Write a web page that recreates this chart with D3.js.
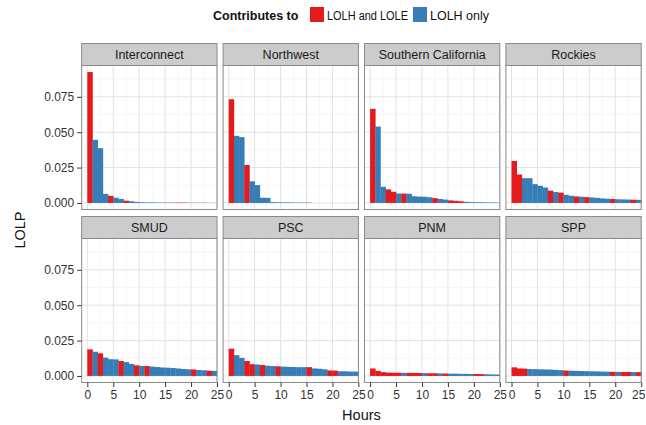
<!DOCTYPE html>
<html>
<head>
<meta charset="utf-8">
<script src="https://cdn.jsdelivr.net/npm/d3@7"></script>
<style>
  html, body { margin: 0; padding: 0; background: #fff; }
  svg { display: block; font-family: "Liberation Sans", Arial, sans-serif; }
</style>
</head>
<body>
<svg id="chart" width="646" height="425"></svg>
<script>
// Hours (bar i covers the interval [hour-1, hour])
const hours = [1,2,3,4,5,6,7,8,9,10,11,12,13,14,15,16,17,18,19,20,21,22,23,24,25];

const regions = ["Interconnect", "Northwest", "Southern California", "Rockies",
                 "SMUD", "PSC", "PNM", "SPP"];

const categories = ["LOLH and LOLE", "LOLH only"];
const categoryColors = ["#E41A1C", "#377EB8"];

// LOLP by hour, per region
const interconnect = [0.0925,0.0446,0.0387,0.0064,0.0050,0.0037,0.0028,0.0016,0.0012,0.0007,0.0005,0.0004,0.0004,0.0003,0.0003,0.0003,0.0003,0.0003,0.0003,0.0002,0.0002,0.0002,0.0002,0.0001,0.0001];
const northwest    = [0.0733,0.0474,0.0465,0.0268,0.0153,0.0126,0.0037,0.0036,0.0006,0.0005,0.0004,0.0004,0.0003,0.0003,0.0003,0.0003,0,0,0,0,0,0,0,0,0];
const socal        = [0.0665,0.0540,0.0114,0.0096,0.0079,0.0067,0.0066,0.0065,0.0047,0.0045,0.0044,0.0040,0.0034,0.0028,0.0024,0.0018,0.0015,0.0012,0.0008,0.0006,0.0005,0.0005,0.0004,0.0004,0.0003];
const rockies      = [0.0297,0.0201,0.0175,0.0175,0.0133,0.0121,0.0109,0.0087,0.0077,0.0073,0.0058,0.0051,0.0046,0.0044,0.0041,0.0039,0.0036,0.0032,0.0030,0.0028,0.0026,0.0025,0.0024,0.0023,0.0022];
const smud         = [0.0188,0.0171,0.0160,0.0130,0.0118,0.0117,0.0106,0.0098,0.0085,0.0075,0.0071,0.0070,0.0066,0.0063,0.0060,0.0058,0.0056,0.0053,0.0049,0.0047,0.0046,0.0042,0.0040,0.0037,0.0036];
const psc          = [0.0193,0.0147,0.0128,0.0106,0.0083,0.0081,0.0077,0.0072,0.0070,0.0068,0.0066,0.0064,0.0063,0.0062,0.0062,0.0062,0.0053,0.0051,0.0047,0.0039,0.0038,0.0033,0.0033,0.0031,0.0031];
const pnm          = [0.0053,0.0036,0.0027,0.0024,0.0023,0.0023,0.0022,0.0022,0.0021,0.0021,0.0020,0.0019,0.0019,0.0018,0.0017,0.0016,0.0016,0.0015,0.0015,0.0014,0.0014,0.0013,0.0012,0.0011,0.0010];
const spp          = [0.0061,0.0053,0.0052,0.0049,0.0048,0.0047,0.0046,0.0045,0.0043,0.0041,0.0038,0.0037,0.0036,0.0035,0.0034,0.0033,0.0032,0.0031,0.0030,0.0029,0.0029,0.0028,0.0028,0.0027,0.0027];

// Category index per hour: 0 = LOLH and LOLE, 1 = LOLH only
const interconnectCat = [0,1,1,1,0,1,1,0,1,1,1,1,1,1,1,1,1,0,0,1,1,1,1,1,1];
const northwestCat    = [0,1,1,0,1,1,1,1,1,1,1,1,1,1,1,1,1,1,1,1,1,1,1,1,1];
const socalCat        = [0,1,1,0,0,1,0,1,1,1,1,1,0,1,1,0,0,0,1,1,1,1,1,1,1];
const rockiesCat      = [0,0,1,1,1,1,1,0,1,0,1,1,0,1,0,1,1,1,1,0,1,1,1,0,1];
const smudCat         = [0,1,0,1,1,1,0,1,1,0,1,0,1,1,1,1,1,1,1,1,0,1,1,0,1];
const pscCat          = [0,1,1,0,0,1,0,1,1,0,1,1,1,1,1,0,1,1,1,0,0,1,1,1,1];
const pnmCat          = [0,0,0,0,0,0,1,0,0,0,1,0,0,1,0,1,1,1,1,1,0,0,1,1,1];
const sppCat          = [0,0,0,1,1,1,1,1,1,1,0,1,1,1,1,1,1,1,1,0,1,0,0,1,0];

const seriesValues = [interconnect, northwest, socal, rockies, smud, psc, pnm, spp];
const seriesCats   = [interconnectCat, northwestCat, socalCat, rockiesCat, smudCat, pscCat, pnmCat, sppCat];

const xTicks = [0, 5, 10, 15, 20, 25];
const yTicks = [0, 0.025, 0.05, 0.075];

// Layout
const colX = [81.7, 223.1, 364.5, 505.9];
const panelW = 135.3;
const rowY = [43.5, 216.5];
const stripH = 22;
const plotH = 144;

const svg = d3.select("#chart");

const maxV = d3.max(seriesValues.flat());
const pad = maxV * 0.05;
const y = d3.scaleLinear().domain([-pad, maxV + pad]).range([plotH, 0]);
const x = d3.scaleLinear().domain([-1.08, 25]).range([0, panelW]);

const xMinor = [2.5, 7.5, 12.5, 17.5, 22.5];
const yMinor = [0.0125, 0.0375, 0.0625, 0.0875];

regions.forEach((name, idx) => {
  const col = idx % 4, row = Math.floor(idx / 4);
  const gx = colX[col], gy = rowY[row] + stripH;
  const g = svg.append("g").attr("transform", `translate(${gx},${gy})`);

  // panel background
  g.append("rect").attr("width", panelW).attr("height", plotH).attr("fill", "#fff");

  // minor grid
  g.selectAll(".xm").data(xMinor).enter().append("line")
    .attr("x1", d => x(d)).attr("x2", d => x(d)).attr("y1", 0).attr("y2", plotH)
    .attr("stroke", "#f4f4f4").attr("stroke-width", 0.8);
  g.selectAll(".ym").data(yMinor.filter(v => y(v) > 0)).enter().append("line")
    .attr("x1", 0).attr("x2", panelW).attr("y1", d => y(d)).attr("y2", d => y(d))
    .attr("stroke", "#f4f4f4").attr("stroke-width", 0.8);
  // major grid
  g.selectAll(".xg").data(xTicks).enter().append("line")
    .attr("x1", d => x(d)).attr("x2", d => x(d)).attr("y1", 0).attr("y2", plotH)
    .attr("stroke", "#e3e3e3").attr("stroke-width", 1);
  g.selectAll(".yg").data(yTicks).enter().append("line")
    .attr("x1", 0).attr("x2", panelW).attr("y1", d => y(d)).attr("y2", d => y(d))
    .attr("stroke", "#e3e3e3").attr("stroke-width", 1);

  // bars
  const vals = seriesValues[idx], cats = seriesCats[idx];
  const data = hours.map((h, i) => ({ h, v: vals[i], c: cats[i] }));
  g.selectAll(".bar").data(data).enter().append("rect")
    .attr("x", d => x(d.h - 1))
    .attr("width", d => x(d.h) - x(d.h - 1) + 0.3)
    .attr("y", d => y(d.v))
    .attr("height", d => Math.max(0, y(0) - y(d.v)))
    .attr("fill", d => categoryColors[d.c]);

  // panel border
  g.append("rect").attr("width", panelW).attr("height", plotH)
    .attr("fill", "none").attr("stroke", "#8a8a8a").attr("stroke-width", 1);

  // strip
  svg.append("rect")
    .attr("x", gx).attr("y", rowY[row]).attr("width", panelW).attr("height", stripH)
    .attr("fill", "#cccccc").attr("stroke", "#8a8a8a").attr("stroke-width", 1);
  svg.append("text")
    .attr("x", gx + panelW / 2).attr("y", rowY[row] + stripH / 2 + 4.5)
    .attr("text-anchor", "middle").attr("font-size", 12.5).attr("fill", "#1a1a1a")
    .text(name);

  // y axis on first column
  if (col === 0) {
    const ya = d3.axisLeft(y).tickValues(yTicks).tickFormat(d3.format(".3f")).tickSize(4.5).tickPadding(3);
    const ag = g.append("g").call(ya);
    ag.select(".domain").remove();
    ag.selectAll("line").attr("stroke", "#333");
    ag.selectAll("text").attr("font-size", 12).attr("fill", "#333")
      .attr("font-family", "Liberation Sans, Arial, sans-serif");
  }
  // x axis on bottom row
  if (row === 1) {
    const xa = d3.axisBottom(x).tickValues(xTicks).tickFormat(d3.format("d")).tickSize(4.5).tickPadding(3);
    const ag = g.append("g").attr("transform", `translate(0,${plotH})`).call(xa);
    ag.select(".domain").remove();
    ag.selectAll("line").attr("stroke", "#333");
    ag.selectAll("text").attr("font-size", 12).attr("fill", "#333")
      .attr("font-family", "Liberation Sans, Arial, sans-serif");
    // keep the last label of the rightmost panel inside the page
    if (col === 3) {
      ag.selectAll("text").filter(d => d === 25).attr("dx", -3);
    }
  }
});

// axis titles
svg.append("text").attr("x", colX[0] + (colX[3] + panelW - colX[0]) / 2).attr("y", 420)
  .attr("text-anchor", "middle").attr("font-size", 14.5).attr("fill", "#111").text("Hours");
svg.append("text").attr("transform", "translate(25,230) rotate(-90)")
  .attr("text-anchor", "middle").attr("font-size", 14.5).attr("fill", "#111").text("LOLP");

// legend
const lg = svg.append("g");
lg.append("text").attr("x", 213).attr("y", 20).attr("font-size", 12.5).attr("font-weight", "bold")
  .attr("fill", "#111").text("Contributes to");
const keyX = [310, 413];
const labX = [327, 430];
const labW = [81, 59];
categories.forEach((c, i) => {
  lg.append("rect").attr("x", keyX[i]).attr("y", 7).attr("width", 14).attr("height", 15)
    .attr("fill", categoryColors[i]);
  lg.append("text").attr("x", labX[i]).attr("y", 20).attr("font-size", 12)
    .attr("textLength", labW[i]).attr("lengthAdjust", "spacingAndGlyphs")
    .attr("fill", "#111").text(c);
});
</script>
</body>
</html>
